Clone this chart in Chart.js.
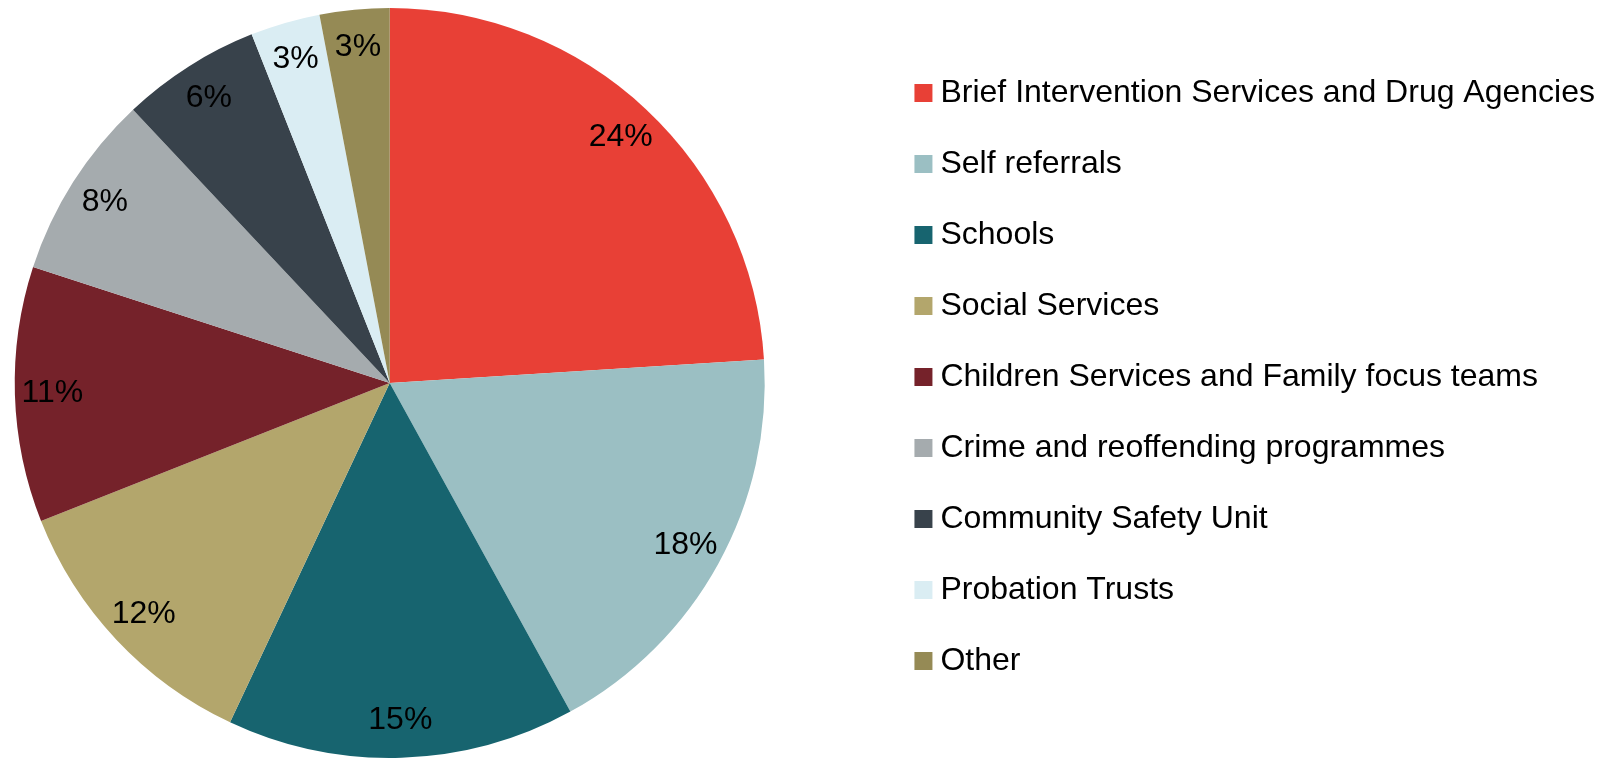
<!DOCTYPE html>
<html lang="en">
<head>
    <meta charset="UTF-8">
    <title>Referral sources</title>
    <script src="https://cdn.jsdelivr.net/npm/chart.js"></script>
    <style>
        body { margin: 0; background: #fff; overflow: hidden; }
        /* canvas runs a little past the left edge so the pie sits left of centre */
        #wrap { position: absolute; left: -104px; top: 0; width: 1720px; height: 759px; }
    </style>
</head>
<body>
    <div id="wrap"><canvas id="referralChart"></canvas></div>

    <script>
        // Referral sources, share of all referrals (%)
        const sources = [
            'Brief Intervention Services and Drug Agencies',
            'Self referrals',
            'Schools',
            'Social Services',
            'Children Services and Family focus teams',
            'Crime and reoffending programmes',
            'Community Safety Unit',
            'Probation Trusts',
            'Other'
        ];
        const shares = [24, 18, 15, 12, 11, 8, 6, 3, 3];
        const sliceColours = [
            '#e84036', '#9bbfc3', '#17646f', '#b3a66c', '#75222a',
            '#a5abae', '#38424b', '#daedf3', '#958a55'
        ];

        const FONT = 'Liberation Sans, Arial, Helvetica, sans-serif';

        // percentage text inside each slice, near the rim
        const sliceLabels = {
            id: 'sliceLabels',
            afterDatasetsDraw(chart) {
                const ctx = chart.ctx;
                const meta = chart.getDatasetMeta(0);
                ctx.save();
                ctx.font = '32px ' + FONT;
                ctx.fillStyle = '#000';
                ctx.textAlign = 'center';
                ctx.textBaseline = 'middle';
                meta.data.forEach((arc, i) => {
                    const p = arc.getProps(['x', 'y', 'startAngle', 'endAngle', 'outerRadius'], true);
                    const mid = (p.startAngle + p.endAngle) / 2;
                    const r = p.outerRadius * 0.9;
                    ctx.fillText(shares[i] + '%', p.x + Math.cos(mid) * r, p.y + Math.sin(mid) * r);
                });
                ctx.restore();
            }
        };

        // lift the legend a little above the pie's centre line
        const legendNudge = {
            id: 'legendNudge',
            afterLayout(chart) {
                chart.legend.top -= 6;
                chart.legend.bottom -= 6;
            }
        };

        new Chart(document.getElementById('referralChart'), {
            type: 'pie',
            data: {
                labels: sources,
                datasets: [{
                    data: shares,
                    backgroundColor: sliceColours,
                    borderWidth: 0
                }]
            },
            options: {
                responsive: true,
                maintainAspectRatio: false,
                animation: false,
                layout: {
                    padding: { left: 0, right: 11, top: 8, bottom: 1 }
                },
                plugins: {
                    tooltip: { enabled: false },
                    legend: {
                        position: 'right',
                        labels: {
                            usePointStyle: true,
                            pointStyle: 'rect',
                            boxWidth: 2,
                            boxHeight: 18,
                            padding: 39,
                            color: '#000',
                            font: { family: FONT, size: 32 }
                        }
                    }
                }
            },
            plugins: [sliceLabels, legendNudge]
        });
    </script>
</body>
</html>
